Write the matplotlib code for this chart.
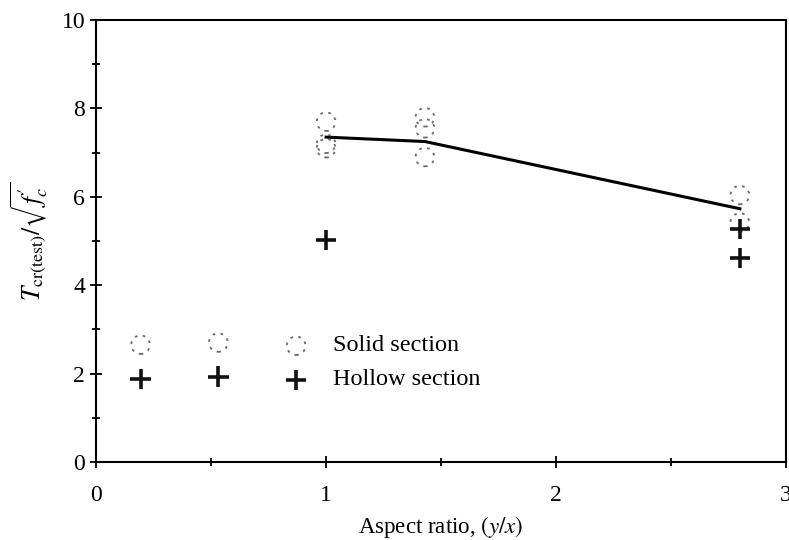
import matplotlib
matplotlib.use("Agg")
import matplotlib.pyplot as plt
from matplotlib.ticker import MultipleLocator

plt.rcParams['font.family'] = ['Liberation Serif', 'DejaVu Serif']
plt.rcParams['mathtext.fontset'] = 'stix'

# Solid section tests
solid_x = [1.0, 1.0, 1.0, 1.43, 1.43, 1.43, 2.8, 2.8]
solid_y = [7.7, 7.1, 7.2, 7.8, 7.55, 6.9, 6.04, 5.42]
# Hollow section tests
hollow_x = [1.0, 2.8, 2.8]
hollow_y = [5.02, 5.27, 4.62]
# Mean trend line of solid sections
mean_x = [1.0, 1.43, 2.8]
mean_y = [7.35, 7.25, 5.73]

fig = plt.figure(figsize=(7.89, 5.40), dpi=100)
ax = fig.add_axes([0.122, 0.1444, 0.874, 0.8186])

ax.plot(mean_x, mean_y, color='black', lw=2.2, zorder=2)
ax.scatter(solid_x, solid_y, s=180, facecolors='none', edgecolors='#6a6a6a',
           linewidths=1.3, linestyles=(0, (1.5, 3)), label='Solid section', zorder=3)
ax.scatter(hollow_x, hollow_y, s=220, marker='+', color='#111111',
           linewidths=2.6, label='Hollow section', zorder=4)

ax.set_xlim(0, 3)
ax.set_ylim(0, 10)
ax.xaxis.set_major_locator(MultipleLocator(1))
ax.xaxis.set_minor_locator(MultipleLocator(0.5))
ax.yaxis.set_major_locator(MultipleLocator(2))
ax.yaxis.set_minor_locator(MultipleLocator(1))
ax.tick_params(which='both', direction='inout', labelsize=17, width=1.3)
ax.tick_params(which='major', length=9)
ax.tick_params(which='minor', length=6)
ax.tick_params(axis='x', pad=12)
for sp in ax.spines.values():
    sp.set_linewidth(1.5)

ax.set_xlabel('Aspect ratio, $(y/x)$', fontsize=16.5, labelpad=6)
ax.set_ylabel(r'$T_{\rm cr(test)}/\sqrt{f_c^{\prime}}$', fontsize=18.5, labelpad=8)

ax.legend(scatterpoints=3, frameon=False, fontsize=17.5, handlelength=7.0,
          handletextpad=1.2, labelspacing=0.5, loc='lower left',
          bbox_to_anchor=(0.022, 0.113))

fig.savefig('out.png', dpi=100)
